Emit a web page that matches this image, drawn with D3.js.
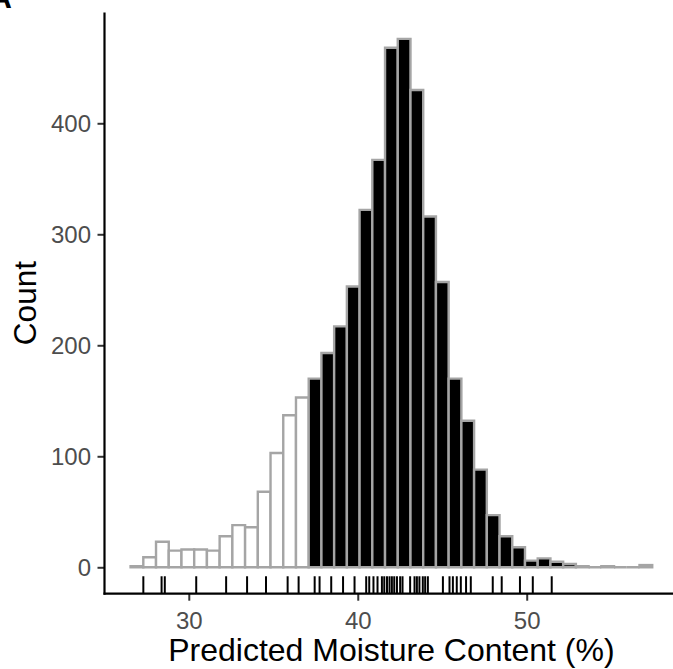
<!DOCTYPE html>
<html>
<head>
<meta charset="utf-8">
<script src="https://cdn.jsdelivr.net/npm/d3@7"></script>
<style>
  html, body { margin: 0; padding: 0; background: #ffffff; }
  svg { display: block; font-family: "Liberation Sans", Arial, Helvetica, sans-serif; }
</style>
</head>
<body>
<svg id="chart" width="673" height="669"></svg>
<script>
// ---- data ----
const binStart = 26.555;          // left edge of first histogram bin (%)
const binWidth = 0.753;           // width of each bin (%)
const counts = [1, 9, 23, 15, 16, 16, 15, 28, 38, 36,
                68, 103, 137, 153, 170, 193, 217, 253, 322, 367,
                468, 476, 430, 316, 257, 170, 132, 88, 47, 28,
                18, 6, 8, 5, 3, 1, 0, 1, 0, 0,
                2];
const highlightFrom = 37.09;      // bins starting at/after this value are filled black
const rugValues = [27.31, 28.39, 28.58, 30.44, 32.21, 33.45, 34.57, 35.85, 36.50, 37.45,
                   37.74, 38.43, 39.13, 39.81, 40.50, 40.68, 40.93, 41.17, 41.43, 41.57,
                   41.73, 41.88, 42.02, 42.16, 42.32, 42.51, 42.65, 43.10, 43.36, 43.50,
                   43.65, 43.85, 43.99, 44.15, 45.04, 45.43, 45.63, 45.86, 46.10, 46.41,
                   46.69, 47.99, 48.52, 49.60, 50.36, 51.48];
const xTicks = [30, 40, 50];
const yTicks = [0, 100, 200, 300, 400];
const xTitle = "Predicted Moisture Content (%)";
const yTitle = "Count";
const panelLabel = "A";

// ---- layout ----
const svg = d3.select("#chart");
const panel = { left: 104.5, right: 678.3, top: 12.5, bottom: 593.7 };

const bins = counts.map((c, i) => ({ x0: binStart + i * binWidth, x1: binStart + (i + 1) * binWidth, count: c }));
const xMin = bins[0].x0, xMax = bins[bins.length - 1].x1;
const xPad = (xMax - xMin) * 0.05;
const yMax = d3.max(counts);
const yPad = yMax * 0.05;

const x = d3.scaleLinear().domain([xMin - xPad, xMax + xPad]).range([panel.left, panel.right]);
const y = d3.scaleLinear().domain([-yPad, yMax + yPad]).range([panel.bottom, panel.top]);

// ---- bars ----
svg.append("g").selectAll("path")
  .data(bins)
  .join("path")
  .attr("d", d => {
    const x0 = x(d.x0), x1 = x(d.x1), y0 = y(0), y1 = y(d.count);
    return `M${x0},${y0}V${y1}H${x1}V${y0}Z`;
  })
  .attr("fill", d => d.x0 >= highlightFrom ? "#000000" : "#ffffff")
  .attr("stroke", "#a5a5a5")
  .attr("stroke-width", 2.4);

// ---- rug ----
const rugLen = (panel.bottom - panel.top) * 0.03;
svg.append("g").selectAll("line")
  .data(rugValues)
  .join("line")
  .attr("x1", d => x(d)).attr("x2", d => x(d))
  .attr("y1", panel.bottom).attr("y2", panel.bottom - rugLen)
  .attr("stroke", "#000").attr("stroke-width", 2);

// ---- axes ----
const yAxis = svg.append("g")
  .attr("transform", `translate(${panel.left},0)`)
  .call(d3.axisLeft(y).tickValues(yTicks).tickSize(7).tickPadding(6));
yAxis.select(".domain").remove();
yAxis.selectAll(".tick line").attr("stroke", "#333333").attr("stroke-width", 2);
yAxis.selectAll(".tick text")
  .attr("fill", "#4d4d4d").attr("font-size", 24)
  .attr("font-family", "Liberation Sans, Arial, sans-serif")
  .attr("x", -13.5).attr("dy", "0.36em");

const xAxis = svg.append("g")
  .attr("transform", `translate(0,${panel.bottom})`)
  .call(d3.axisBottom(x).tickValues(xTicks).tickSize(7).tickPadding(6));
xAxis.select(".domain").remove();
xAxis.selectAll(".tick line").attr("stroke", "#333333").attr("stroke-width", 2);
xAxis.selectAll(".tick text")
  .attr("fill", "#4d4d4d").attr("font-size", 24)
  .attr("font-family", "Liberation Sans, Arial, sans-serif")
  .attr("y", 35).attr("dy", null);

// axis lines
svg.append("line")
  .attr("x1", panel.left).attr("x2", panel.left)
  .attr("y1", panel.top).attr("y2", panel.bottom + 1)
  .attr("stroke", "#000").attr("stroke-width", 2.2);
svg.append("line")
  .attr("x1", panel.left - 1).attr("x2", panel.right)
  .attr("y1", panel.bottom).attr("y2", panel.bottom)
  .attr("stroke", "#000").attr("stroke-width", 2.2);

// ---- titles ----
svg.append("text")
  .attr("x", (panel.left + panel.right) / 2).attr("y", 661)
  .attr("text-anchor", "middle")
  .attr("font-size", 32).attr("fill", "#000")
  .text(xTitle);

svg.append("text")
  .attr("transform", `translate(36,${(panel.top + panel.bottom) / 2}) rotate(-90)`)
  .attr("text-anchor", "middle")
  .attr("font-size", 31.5).attr("fill", "#000")
  .text(yTitle);

svg.append("text")
  .attr("x", 12).attr("y", 8)
  .attr("text-anchor", "end")
  .attr("font-size", 31).attr("font-weight", "bold").attr("fill", "#000")
  .text(panelLabel);
</script>
</body>
</html>
